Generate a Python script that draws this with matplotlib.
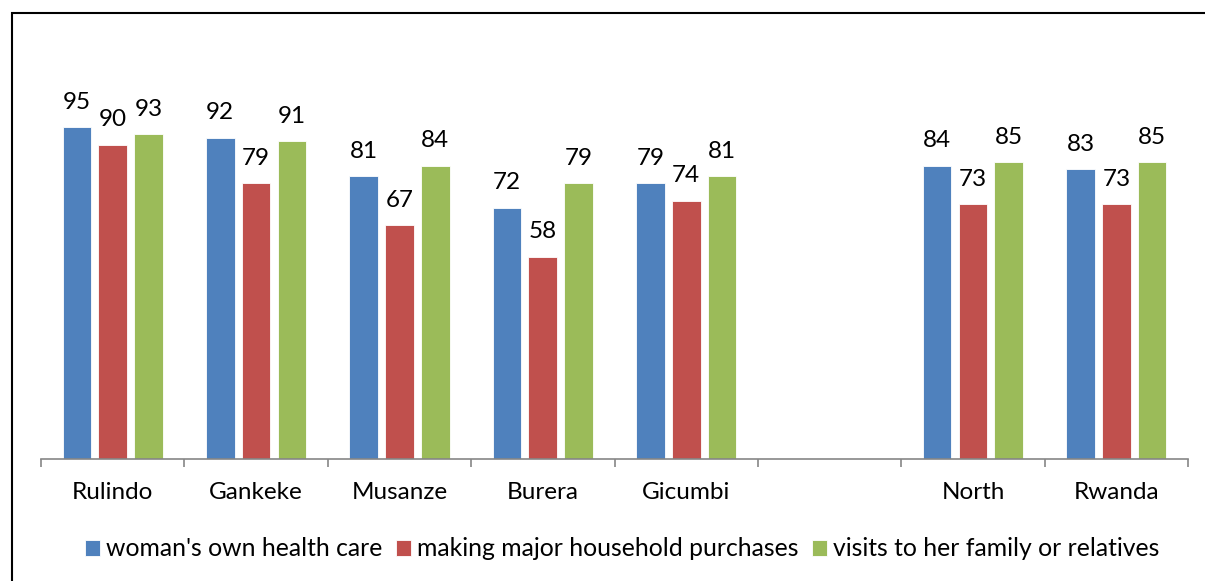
import matplotlib.pyplot as plt
from matplotlib.patches import Rectangle
import numpy as np

categories = ["Rulindo", "Gankeke", "Musanze", "Burera", "Gicumbi", "", "North", "Rwanda"]
health_care = [95, 92, 81, 72, 79, None, 84, 83]
purchases = [90, 79, 67, 58, 74, None, 73, 73]
visits = [93, 91, 84, 79, 81, None, 85, 85]
series_names = ["woman's own health care", "making major household purchases",
                "visits to her family or relatives"]
colors = ["#4F81BD", "#C0504D", "#9BBB59"]

plt.rcParams['font.family'] = ['Lato', 'DejaVu Sans']

fig = plt.figure(figsize=(12.05, 5.81), dpi=100)
ax = fig.add_axes([41 / 1205, 122 / 581, (1188 - 41) / 1205, (459 - 110) / 581])

x = np.arange(len(categories))
offsets = [-0.25, 0, 0.25]
for vals, off, col, name in zip([health_care, purchases, visits], offsets, colors, series_names):
    xs = [xi + off for xi, v in zip(x, vals) if v is not None]
    ys = [v for v in vals if v is not None]
    bars = ax.bar(xs, ys, width=0.2, color=col, edgecolor='white', linewidth=0.6, label=name)
    for b, v in zip(bars, ys):
        ax.annotate(str(v), (b.get_x() + b.get_width() / 2, v), xytext=(0, 10.5),
                    textcoords='offset points', ha='center', va='bottom', fontsize=17.5)

ax.set_xlim(-0.5, len(categories) - 0.5)
ax.set_ylim(0, 100)
ax.set_yticks([])
for s in ['top', 'right', 'left']:
    ax.spines[s].set_visible(False)
ax.spines['bottom'].set_color('#868686')
ax.spines['bottom'].set_linewidth(1.2)

ax.set_xticks(x)
ax.set_xticklabels(categories, fontsize=17.5)
ax.tick_params(axis='x', which='major', length=0, pad=16.5)
ax.set_xticks(np.arange(len(categories) + 1) - 0.5, minor=True)
ax.tick_params(axis='x', which='minor', length=6, color='#868686', width=1.2)

fig.legend(loc='center', bbox_to_anchor=(622 / 1205, 1 - 549 / 581), ncol=3, frameon=False,
           fontsize=17.8, handlelength=0.6, handleheight=0.6, handletextpad=0.25, columnspacing=0.55,
           borderaxespad=0)

fig.patches.append(Rectangle((12 / 1205, -0.1), 1.2, 1.1 - 13 / 581, transform=fig.transFigure,
                             fill=False, edgecolor='black', linewidth=1.5))

fig.savefig('out.png', dpi=100)
